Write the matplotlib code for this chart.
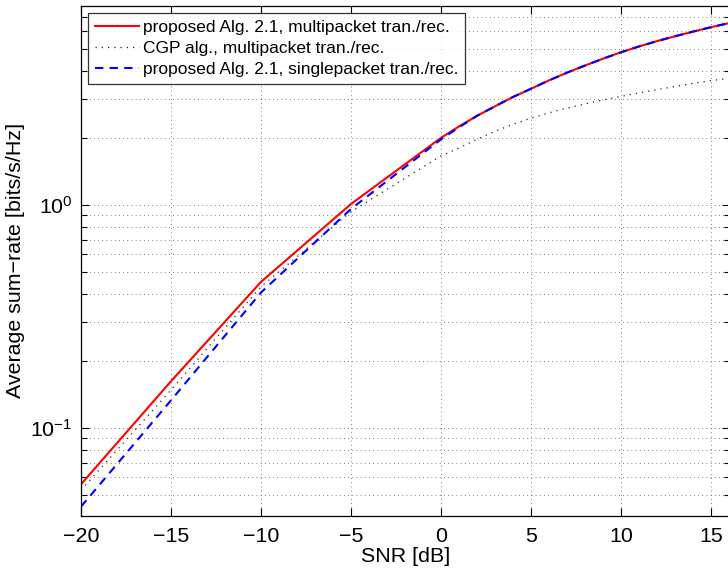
import matplotlib
matplotlib.use("Agg")
import matplotlib.pyplot as plt
from matplotlib.ticker import FixedLocator, NullFormatter, LogLocator

plt.rcParams['font.family'] = ['Liberation Sans', 'DejaVu Sans']
plt.rcParams['mathtext.fontset'] = 'custom'
plt.rcParams['mathtext.rm'] = 'Liberation Sans'
plt.rcParams['mathtext.it'] = 'Liberation Sans:italic'

# ---- data ----
snr_db = [-20, -15, -10, -5, 0, 1, 2, 3, 4, 5, 6, 7, 8, 9, 10, 11, 12, 13, 14, 15, 16]
alg_multi = [0.0559, 0.162, 0.452, 1.01, 2.00, 2.25, 2.51, 2.77, 3.05, 3.32, 3.62, 3.92,
             4.22, 4.53, 4.84, 5.14, 5.43, 5.71, 5.99, 6.27, 6.54]
cgp_multi = [0.0527, 0.148, 0.430, 0.933, 1.66, 1.80, 1.97, 2.14, 2.30, 2.45, 2.59, 2.72,
             2.84, 2.96, 3.07, 3.18, 3.29, 3.40, 3.51, 3.61, 3.70]
alg_single = [0.0444, 0.133, 0.405, 0.960, 1.97, 2.23, 2.51, 2.77, 3.05, 3.32, 3.62, 3.92,
              4.22, 4.53, 4.84, 5.14, 5.43, 5.71, 5.99, 6.27, 6.54]

series_labels = ["proposed Alg. 2.1, multipacket tran./rec.",
                 "CGP alg., multipacket tran./rec.",
                 "proposed Alg. 2.1, singlepacket tran./rec."]

x_ticks = [-20, -15, -10, -5, 0, 5, 10, 15]
y_ticks = [0.1, 1.0]
y_tick_labels = [r'$\mathregular{10^{-1}}$', r'$\mathregular{10^{0}}$']
x_label = "SNR [dB]"
y_label = "Average sum\u2212rate [bits/s/Hz]"

W, H = 728, 572
fig = plt.figure(figsize=(W / 100, H / 100), dpi=100)
ax = fig.add_axes([81 / W, 1 - 516 / H, 649 / W, 510.3 / H])

ax.plot(snr_db, alg_multi, color='#ff0000', lw=1.5, ls='-', label=series_labels[0])
ax.plot(snr_db, cgp_multi, color='#222222', lw=0.9, ls=(0, (1, 4)), label=series_labels[1])
ax.plot(snr_db, alg_single, color='#0000ff', lw=1.5, ls=(0, (4, 3)), label=series_labels[2])

ax.set_yscale('log')
ax.set_xlim(-20, 16.06)
ax.set_ylim(0.0403, 7.83)

ax.xaxis.set_major_locator(FixedLocator(x_ticks))
ax.yaxis.set_major_locator(FixedLocator(y_ticks))
ax.set_yticklabels(y_tick_labels)
ax.yaxis.set_minor_locator(LogLocator(base=10, subs=[2, 3, 4, 5, 6, 7, 8, 9], numticks=20))
ax.yaxis.set_minor_formatter(NullFormatter())

ax.tick_params(which='both', direction='in', top=True, right=True, labelsize=15.4, width=0.8)
ax.tick_params(which='major', length=6)
ax.tick_params(which='minor', length=4)
ax.tick_params(axis='x', pad=8)
ax.tick_params(axis='y', pad=6)

ax.grid(which='major', axis='both', color='#555555', ls=(0, (1, 4)), lw=0.6)
ax.grid(which='minor', axis='y', color='#555555', ls=(0, (1, 4)), lw=0.6)

for s in ax.spines.values():
    s.set_linewidth(0.9)

ax.set_xlabel(x_label, fontsize=15.4, labelpad=1)
ax.set_ylabel(y_label, fontsize=15.4, labelpad=4)

leg = ax.legend(loc='upper left', bbox_to_anchor=(0.0112, 0.986), borderaxespad=0,
                fontsize=12.5, frameon=True, fancybox=False, edgecolor='black',
                handlelength=2.5, handletextpad=0.25, labelspacing=0.33, borderpad=0.4)
leg.get_frame().set_linewidth(0.9)

fig.savefig("out.png", dpi=100)
